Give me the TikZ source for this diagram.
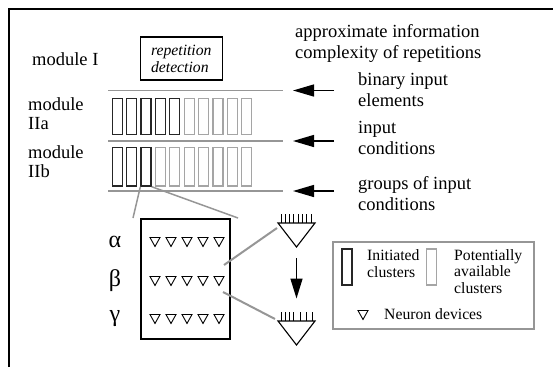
\documentclass[tikz,border=0pt]{standalone}
\usepackage{fontspec}
\setmainfont{Liberation Serif}
\usetikzlibrary{arrows.meta}
\definecolor{lgray}{RGB}{150,150,150}
\definecolor{cgray}{RGB}{165,165,165}

\begin{document}
\begin{tikzpicture}[x=1pt,y=-1pt,
  txt/.style={anchor=base west,inner sep=0,align=left,font=\fontsize{18.5}{20.5}\selectfont},
  small/.style={anchor=base west,inner sep=0,align=left,font=\fontsize{15.7}{16.8}\selectfont},
  greek/.style={inner sep=0,font=\fontsize{24}{24}\selectfont},
  initc/.style={draw=black!85,line width=1.3,minimum width=10pt,minimum height=36pt,inner sep=0},
  availc/.style={initc,draw=cgray},
  level/.style={draw=lgray,line width=1.3},
  feed/.style={draw=lgray,line width=2},
  inarrow/.style={-{Triangle[length=21pt,width=12pt]},line width=1.4},
  nd/.pic={\draw[line width=0.9] (-5,-4.5) -- (5,-4.5) -- (0,4.5) -- cycle;}]
\useasboundingbox (0,0) rectangle (553,367);
\draw[line width=2.2] (9,367) -- (9,9) -- (553,9);

% modules (base = last line)
\node[txt] (modI) at (32,65) {module I};
\node[txt,font=\fontsize{18.5}{19}\selectfont] (modIIa) at (28,129) {module\\IIa};
\node[txt,font=\fontsize{18.5}{19}\selectfont] (modIIb) at (28,177) {module\\IIb};
\node[draw,line width=1.2,minimum width=82pt,minimum height=43pt,inner sep=0,align=left,
  font=\fontsize{15.7}{17}\selectfont\itshape] (rep) at (181.3,58.5) {repetition\\detection};

% levels and inputs
\node[txt] (cplx) at (295,58) {approximate information\\complexity of repetitions};
\node[txt] (bin) at (358,106) {binary input\\elements};
\node[txt] (cond) at (358,154) {input\\conditions};
\node[txt] (grp) at (358,210) {groups of input\\conditions};
\foreach \y/\n in {90.5/1,141/2,191/3} {
  \coordinate (l\n) at (108,\y);
  \coordinate (r\n) at (283,\y);
  \coordinate (s\n) at (334,\y);
  \coordinate (e\n) at (293,\y);
  \draw[level] (l\n) -- (r\n);
  \draw[inarrow] (s\n) -- (e\n);
}

% clusters
\foreach \i in {0,...,9} {
  \ifnum\i<5 \def\cs{initc}\else\def\cs{availc}\fi
  \node[\cs] (a\i) at (117.2+14.4*\i,116.4) {};
}
\foreach \i in {0,...,9} {
  \ifnum\i<3 \def\cs{initc}\else\def\cs{availc}\fi
  \node[\cs,minimum height=38.5pt] (b\i) at (117.2+14.4*\i,166.8) {};
}

% neuron box
\node[draw,line width=1.2,minimum width=89pt,minimum height=120pt,inner sep=0] (nbox) at (185.5,279) {};
\coordinate (zl) at (133,218);
\coordinate (zr) at (238,218);
\draw[feed,line width=1.5] (b2.south west) -- (zl);
\draw[feed,line width=1.5] (b2.south east) -- (zr);
\foreach \y/\g in {242/α,281/β,319/γ} {
  \node[greek] at (115,\y) {\g};
  \foreach \x in {155,171,187,203,219}
    \pic at (\x,\y) {nd};
}

% neurons
\draw[line width=1.1] (278,223) -- (315,223) -- (296.5,247) -- cycle;
\foreach \t in {281,285.3,...,311.5} \draw[line width=0.9] (\t,214) -- (\t,223);
\draw[line width=1.1] (278,321) -- (315,321) -- (296.5,345) -- cycle;
\foreach \t in {281,285,289,293,300,306,312} \draw[line width=0.9] (\t,312) -- (\t,321);
\coordinate (up) at (296.5,258);
\coordinate (dn) at (296.5,298.5);
\draw[inarrow,-{Triangle[length=20pt,width=12pt]}] (up) -- (dn);
\coordinate (bo) at (224,265);
\coordinate (bt) at (277,228);
\coordinate (go) at (223,292);
\coordinate (gt) at (275,319);
\draw[feed] (bo) -- (bt);
\draw[feed] (go) -- (gt);

% legend
\node[draw=lgray,line width=1.3,minimum width=201pt,minimum height=87pt,inner sep=0] (lg) at (433.5,285.5) {};
\node[initc] (li) at (347,267) {};
\node[availc] (la) at (431.5,267) {};
\node[small] (lit) at (367,277) {Initiated\\clusters};
\node[small,font=\fontsize{15.7}{16.5}\selectfont] (lat) at (454,293) {Potentially\\available\\clusters};
\pic at (363,315) {nd};
\node[small] (lnt) at (384,319) {Neuron devices};
\end{tikzpicture}
\end{document}
